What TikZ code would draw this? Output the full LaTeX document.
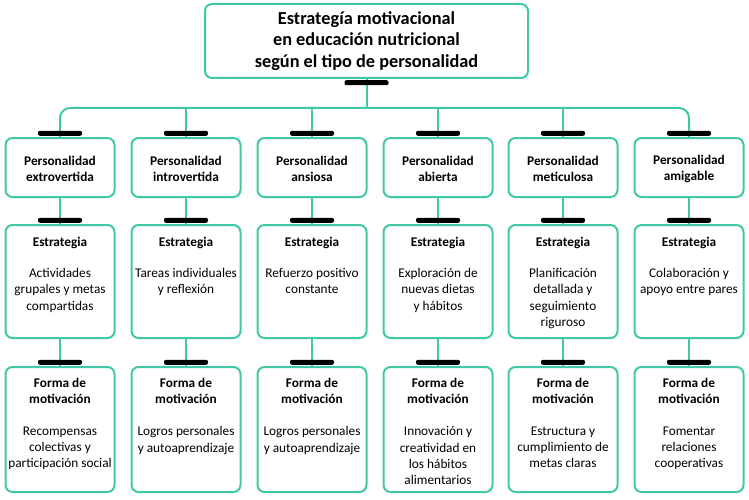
\documentclass[tikz,border=0pt]{standalone}
\usepackage{fontspec}
\setmainfont{Carlito}
\usetikzlibrary{backgrounds}
\definecolor{tealline}{RGB}{64,201,164}
\begin{document}
\begin{tikzpicture}[x=1pt,y=-1pt,
 box/.style={draw=tealline, line width=2pt, rounded corners=7pt, fill=white, minimum width=109pt, inner sep=0pt},
 tabbar/.style={fill=black, rounded corners=2pt, minimum width=44pt, minimum height=5pt, inner sep=0pt},
 link/.style={draw=tealline, line width=2pt},
 head/.style={font=\fontsize{13.3}{16.3}\selectfont\bfseries, align=center, inner sep=0pt},
 body/.style={font=\fontsize{13.3}{16.3}\selectfont, align=center, inner sep=0pt},
 ttl/.style={font=\fontsize{18.3}{21.5}\selectfont\bfseries, align=center, inner sep=0pt}]
\useasboundingbox (0,0) rectangle (749,500);
\node[box, minimum width=323pt, minimum height=74pt] (title) at (366.5,41) {};
\node[ttl] (ttltext) at (366.5,41) {Estrategía motivacional\\en educación nutricional\\según el tipo de personalidad};
\coordinate (bus) at (0,108);
\foreach \i/\x/\p/\s/\m in {
 1/60/{Personalidad\\extrovertida}/{Actividades\\grupales y metas\\compartidas}/{Recompensas\\colectivas y\\participación social},
 2/186/{Personalidad\\introvertida}/{Tareas individuales\\y reflexión}/{Logros personales\\y autoaprendizaje},
 3/312/{Personalidad\\ansiosa}/{Refuerzo positivo\\constante}/{Logros personales\\y autoaprendizaje},
 4/438/{Personalidad\\abierta}/{Exploración de\\nuevas dietas\\y hábitos}/{Innovación y\\creatividad en\\los hábitos\\alimentarios},
 5/563/{Personalidad\\meticulosa}/{Planificación\\detallada y\\seguimiento\\riguroso}/{Estructura y\\cumplimiento de\\metas claras},
 6/689/{Personalidad\\amigable}/{Colaboración y\\apoyo entre pares}/{Fomentar\\relaciones\\cooperativas}}{
 \node[box, minimum height=59pt] (p\i) at (\x,167.5) {};
 \node[head] (pt\i) at (\x,169) {\p};
 \node[box, minimum height=113pt] (s\i) at (\x,281.5) {};
 \node[head] (sh\i) at (\x,242.5) {Estrategia};
 \node[body, anchor=north] (sb\i) at (\x,268) {\s};
 \node[box, minimum height=125pt] (m\i) at (\x,429.5) {};
 \node[head] (mh\i) at (\x,391) {Forma de\\motivación};
 \node[body, anchor=north] (mb\i) at (\x,426.5) {\m};
 \begin{scope}[on background layer]
 \draw[link] (p\i.south) -- (s\i.north);
 \draw[link] (s\i.south) -- (m\i.north);
 \end{scope}
 \node[tabbar, anchor=south] (tp\i) at ([yshift=1pt]p\i.north) {};
 \node[tabbar, anchor=south] (ts\i) at ([yshift=1pt]s\i.north) {};
 \node[tabbar, anchor=south] (tm\i) at ([yshift=1pt]m\i.north) {};
}
\begin{scope}[on background layer]
 \draw[link] (title.south) -- (title.south |- bus);
 \draw[link, rounded corners=10pt] (p1.north) -- (p1.north |- bus) -- (p6.north |- bus) -- (p6.north);
 \foreach \i in {2,3,4,5} { \draw[link] (p\i.north |- bus) -- (p\i.north); }
\end{scope}
\node[tabbar, anchor=north] (ttab) at ([yshift=-1pt]title.south) {};
\end{tikzpicture}
\end{document}
